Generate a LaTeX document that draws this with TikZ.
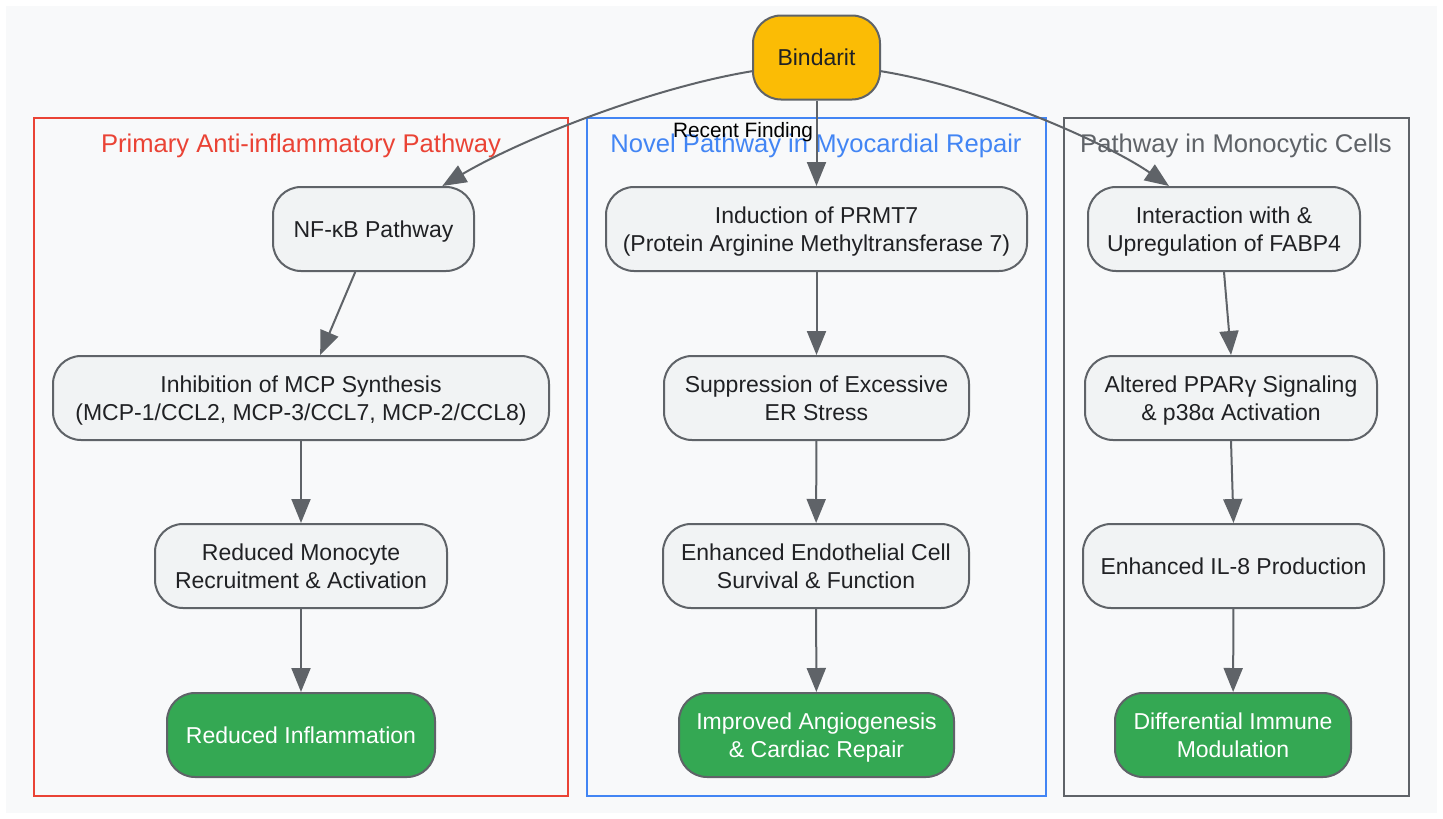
\documentclass[tikz,border=0pt]{standalone}
\usepackage{fontspec}
\setmainfont{Liberation Sans}
\usetikzlibrary{arrows.meta}
\definecolor{bgc}{HTML}{F8F9FA}
\definecolor{nodefill}{HTML}{F1F3F4}
\definecolor{strokec}{HTML}{5F6368}
\definecolor{amber}{HTML}{FBBC05}
\definecolor{gfill}{HTML}{34A853}
\definecolor{redc}{HTML}{EA4335}
\definecolor{bluec}{HTML}{4285F4}
\definecolor{txt}{HTML}{202124}
\newcommand{\mystrut}{\rule[-0.21em]{0pt}{1.12em}}
\tikzset{
  box/.style={draw=strokec, line width=2pt, fill=nodefill, rounded corners=28pt,
    minimum height=84pt, inner sep=0pt, align=center, text=txt,
    font=\fontsize{23}{28}\selectfont\mystrut},
  twoline/.style={text depth=-3.2pt},
  startbox/.style={box, fill=amber},
  endbox/.style={box, fill=gfill, text=white},
  cluster/.style={line width=2pt, fill=none},
  ctitle/.style={anchor=base, font=\fontsize{25.6}{30}\selectfont},
  arr/.style={draw=strokec, line width=2pt, -{Triangle[length=24pt,width=19pt]}},
}
\begin{document}
\begin{tikzpicture}[x=1pt,y=-1pt]
\useasboundingbox (0,0) rectangle (1443,819);
\fill[white] (0,0) rectangle (1443,819);
\fill[bgc] (6,6) rectangle (1437,813);
% clusters
\draw[cluster, draw=redc] (34,118) rectangle (568,796);
\draw[cluster, draw=bluec] (587,118) rectangle (1046,796);
\draw[cluster, draw=strokec] (1064,118) rectangle (1409,796);
\node[ctitle, text=redc] (t1) at (301,152.5) {Primary Anti-inflammatory Pathway};
\node[ctitle, text=bluec] (t2) at (816,152.5) {Novel Pathway in Myocardial Repair};
\node[ctitle, text=strokec] (t3) at (1236,152.5) {Pathway in Monocytic Cells};
% nodes
\node[startbox, minimum width=127pt] (bind) at (816.5,57.5) {Bindarit};
\node[box, minimum width=201pt] (nf) at (373.5,229) {NF-κB Pathway};
\node[box, twoline, minimum width=496pt] (mcp) at (301,398) {Inhibition of MCP Synthesis\\\mystrut(MCP-1/CCL2, MCP-3/CCL7, MCP-2/CCL8)};
\node[box, twoline, minimum width=292pt] (mono) at (301,566) {Reduced Monocyte\\\mystrut Recruitment \& Activation};
\node[endbox, minimum width=268pt] (infl) at (301,735) {Reduced Inflammation};
\node[box, twoline, minimum width=421pt] (prmt) at (816.5,229) {Induction of PRMT7\\\mystrut(Protein Arginine Methyltransferase 7)};
\node[box, twoline, minimum width=305pt] (er) at (816.5,398) {Suppression of Excessive\\\mystrut ER Stress};
\node[box, twoline, minimum width=306pt] (endo) at (816,566) {Enhanced Endothelial Cell\\\mystrut Survival \& Function};
\node[endbox, twoline, minimum width=275pt] (angio) at (816.5,735) {Improved Angiogenesis\\\mystrut\& Cardiac Repair};
\node[box, twoline, minimum width=272pt] (fabp) at (1224,229) {Interaction with \&\\\mystrut Upregulation of FABP4};
\node[box, twoline, minimum width=292pt] (ppar) at (1231,398) {Altered PPARγ Signaling\\\mystrut\& p38α Activation};
\node[box, minimum width=301pt] (il8) at (1233.5,566) {Enhanced IL-8 Production};
\node[endbox, twoline, minimum width=236pt] (diff) at (1233,735) {Differential Immune\\\mystrut Modulation};
% edges
\draw[arr] (bind.192) .. controls (650,88) and (520,140) .. (nf.32);
\draw[arr] (bind.south) -- (prmt.north);
\draw[arr] (bind.348) .. controls (985,88) and (1110,145) .. (fabp.142);
\node[anchor=base, font=\fontsize{20.8}{24}\selectfont, text=black] (lab) at (743,137.5) {Recent Finding};
\draw[arr] (nf.247) -- (mcp.66);
\draw[arr] (mcp) -- (mono);
\draw[arr] (mono) -- (infl);
\draw[arr] (prmt) -- (er);
\draw[arr] (er) -- (endo);
\draw[arr] (endo) -- (angio);
\draw[arr] (fabp.south) -- (ppar.north);
\draw[arr] (ppar.south) -- (il8.north);
\draw[arr] (il8) -- (diff);
\end{tikzpicture}
\end{document}
